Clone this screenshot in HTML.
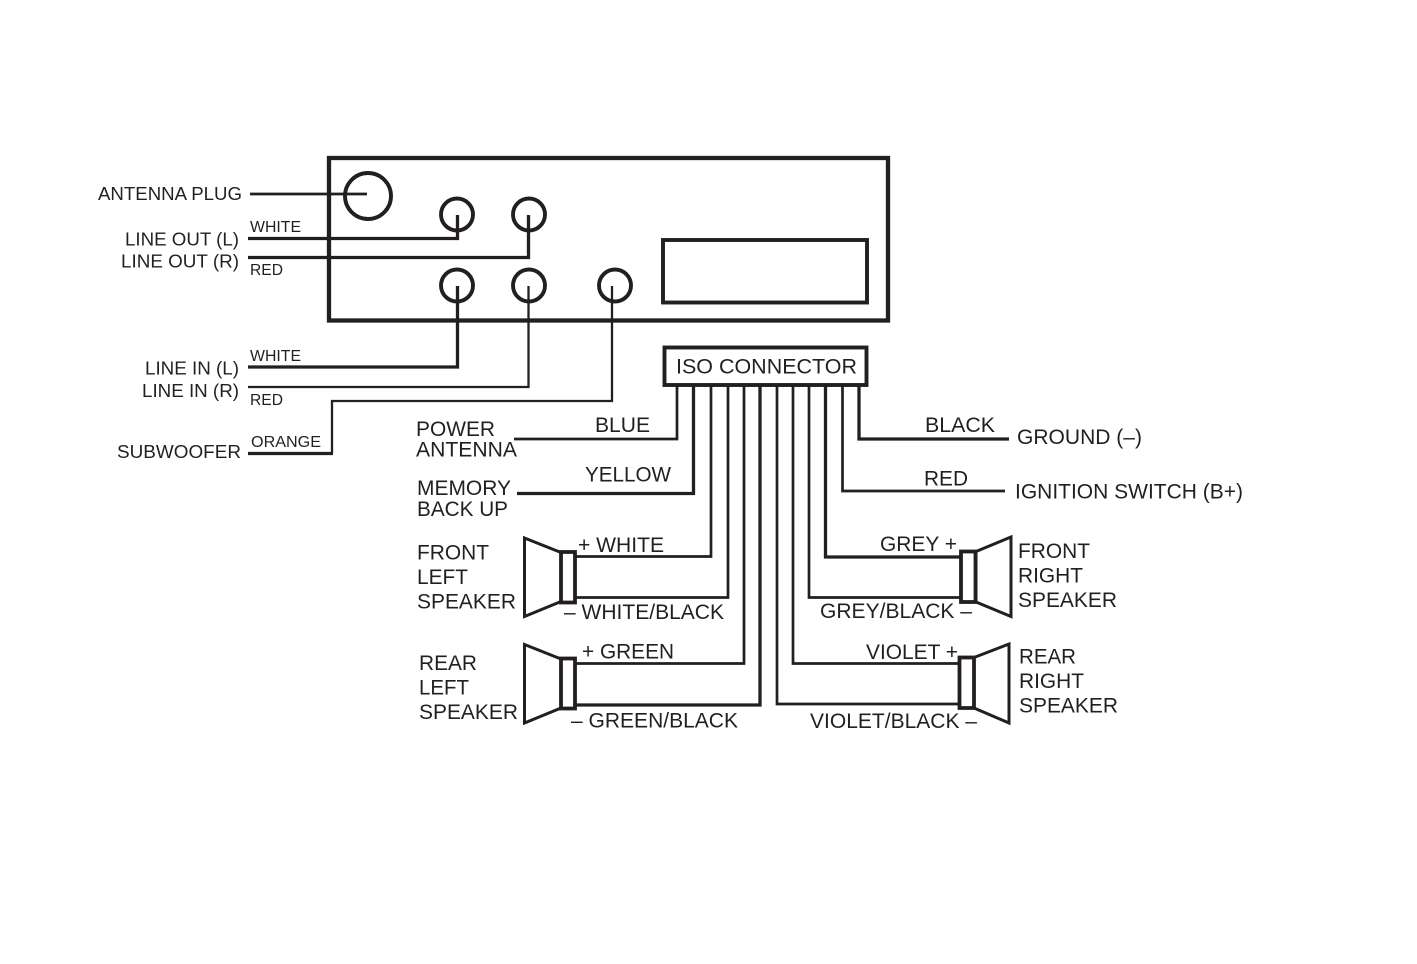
<!DOCTYPE html>
<html lang="en">
<head>
<meta charset="utf-8">
<title>ISO connector wiring diagram</title>
<style>
html,body{margin:0;padding:0;background:#fff;width:1417px;height:964px;overflow:hidden}
svg{display:block}
text{font-family:"Liberation Sans",Arial,sans-serif;fill:#231f20}
.w{fill:none;stroke:#231f20;stroke-width:2.7;stroke-linejoin:miter}
.k{stroke-width:3.3}
.n{stroke-width:2.3}
.b{fill:none;stroke:#231f20;stroke-width:3.9}
.s{fill:#fff;stroke:#231f20;stroke-width:3}
.r{fill:#fff;stroke:#231f20;stroke-width:3.8}
.t16 text{font-size:16px}
.t18 text{font-size:18.6px}
.t21 text{font-size:20.8px}
</style>
</head>
<body>
<svg width="1417" height="964" viewBox="0 0 1417 964" xmlns="http://www.w3.org/2000/svg">
<rect width="1417" height="964" fill="#fff"/>

<!-- head unit -->
<rect x="329" y="158" width="559" height="162.500" fill="none" stroke="#231f20" stroke-width="4.300"/>
<rect x="663" y="240" width="204" height="62.500" class="b"/>
<circle cx="368" cy="196" r="23" class="b"/>
<circle cx="457" cy="214.500" r="16" class="b"/>
<circle cx="529" cy="214.500" r="16" class="b"/>
<circle cx="457" cy="285.500" r="16" class="b"/>
<circle cx="529" cy="285.500" r="16" class="b"/>
<circle cx="615" cy="285.500" r="16" class="b"/>

<!-- rear-panel wires -->
<path class="w" d="M250 194H367"/>
<path class="w k" d="M248 238.500H457.500V215"/>
<path class="w k" d="M248 257.500H528.500V215"/>
<path class="w k" d="M248 367H457.500V286"/>
<path class="w n" d="M248 387H528.500V286"/>
<path class="w n" d="M332 453.500V401H612V286"/>
<path class="w k" d="M248 453.500H333"/>

<!-- ISO connector -->
<rect x="664.500" y="347.500" width="202" height="37.500" class="b"/>
<path class="w" d="M514 439H677V386"/>
<path class="w k" d="M517 493.500H693.500V386"/>
<path class="w" d="M576 556.500H711V386"/>
<path class="w" d="M576 597.500H728V386"/>
<path class="w" d="M576 663.500H744V386"/>
<path class="w k" d="M576 705H760V386"/>
<path class="w" d="M960 704H777V386"/>
<path class="w" d="M960 663.500H793V386"/>
<path class="w" d="M960 597.500H809V386"/>
<path class="w k" d="M960 557H825.500V386"/>
<path class="w" d="M1005 491H842.500V386"/>
<path class="w k" d="M1009 439H859V386"/>

<!-- speakers -->
<path class="s" d="M524.500 538L561 552.500V601.500L524.500 616.500Z"/>
<rect x="561" y="552" width="14" height="50.500" class="r"/>
<path class="s" d="M524.500 644.500L561 659V708L524.500 723Z"/>
<rect x="561" y="658.500" width="14" height="50" class="r"/>
<path class="s" d="M976 551.500L1011 537V616.500L976 602Z"/>
<rect x="961" y="551.500" width="14.500" height="50.500" class="r"/>
<path class="s" d="M974 657.500L1009 644V723L974 708Z"/>
<rect x="959.500" y="657.500" width="14.500" height="50.500" class="r"/>

<!-- small labels -->
<g class="t16">
<text x="250" y="232" textLength="51" lengthAdjust="spacingAndGlyphs">WHITE</text>
<text x="250" y="275" textLength="33" lengthAdjust="spacingAndGlyphs">RED</text>
<text x="250" y="361" textLength="51" lengthAdjust="spacingAndGlyphs">WHITE</text>
<text x="250" y="405" textLength="33" lengthAdjust="spacingAndGlyphs">RED</text>
<text x="251" y="447" textLength="70" lengthAdjust="spacingAndGlyphs">ORANGE</text>
</g>

<!-- left labels -->
<g class="t18">
<text x="98" y="200" textLength="144" lengthAdjust="spacingAndGlyphs">ANTENNA PLUG</text>
<text x="125" y="245.500" textLength="114" lengthAdjust="spacingAndGlyphs">LINE OUT (L)</text>
<text x="121" y="267.500" textLength="118" lengthAdjust="spacingAndGlyphs">LINE OUT (R)</text>
<text x="145" y="374.500" textLength="94" lengthAdjust="spacingAndGlyphs">LINE IN (L)</text>
<text x="142" y="397" textLength="97" lengthAdjust="spacingAndGlyphs">LINE IN (R)</text>
<text x="117" y="458" textLength="124" lengthAdjust="spacingAndGlyphs">SUBWOOFER</text>
</g>

<!-- large labels -->
<g class="t21">
<text x="416" y="436" textLength="79" lengthAdjust="spacingAndGlyphs">POWER</text>
<text x="416" y="456.500" textLength="101" lengthAdjust="spacingAndGlyphs">ANTENNA</text>
<text x="676" y="373.500" textLength="181" lengthAdjust="spacingAndGlyphs">ISO CONNECTOR</text>
<text x="595" y="432" textLength="55" lengthAdjust="spacingAndGlyphs">BLUE</text>
<text x="585" y="481.500" textLength="86" lengthAdjust="spacingAndGlyphs">YELLOW</text>
<text x="417" y="495" textLength="94" lengthAdjust="spacingAndGlyphs">MEMORY</text>
<text x="417" y="516" textLength="91" lengthAdjust="spacingAndGlyphs">BACK UP</text>

<text x="417" y="559.500" textLength="72" lengthAdjust="spacingAndGlyphs">FRONT</text>
<text x="417" y="584" textLength="51" lengthAdjust="spacingAndGlyphs">LEFT</text>
<text x="417" y="608.500" textLength="99" lengthAdjust="spacingAndGlyphs">SPEAKER</text>
<text x="578" y="552" textLength="86" lengthAdjust="spacingAndGlyphs">+ WHITE</text>
<text x="564" y="619" textLength="160" lengthAdjust="spacingAndGlyphs">– WHITE/BLACK</text>

<text x="582" y="658.500" textLength="92" lengthAdjust="spacingAndGlyphs">+ GREEN</text>
<text x="571" y="727.500" textLength="167" lengthAdjust="spacingAndGlyphs">– GREEN/BLACK</text>
<text x="419" y="670" textLength="58" lengthAdjust="spacingAndGlyphs">REAR</text>
<text x="419" y="694.500" textLength="50" lengthAdjust="spacingAndGlyphs">LEFT</text>
<text x="419" y="719" textLength="99" lengthAdjust="spacingAndGlyphs">SPEAKER</text>

<text x="925" y="432" textLength="70" lengthAdjust="spacingAndGlyphs">BLACK</text>
<text x="1017" y="444" textLength="125" lengthAdjust="spacingAndGlyphs">GROUND (–)</text>
<text x="924" y="485.500" textLength="44" lengthAdjust="spacingAndGlyphs">RED</text>
<text x="1015" y="498.500" textLength="228" lengthAdjust="spacingAndGlyphs">IGNITION SWITCH (B+)</text>

<text x="880" y="551" textLength="77" lengthAdjust="spacingAndGlyphs">GREY +</text>
<text x="820" y="618" textLength="152" lengthAdjust="spacingAndGlyphs">GREY/BLACK –</text>
<text x="1018" y="558" textLength="72" lengthAdjust="spacingAndGlyphs">FRONT</text>
<text x="1018" y="582.500" textLength="65" lengthAdjust="spacingAndGlyphs">RIGHT</text>
<text x="1018" y="607" textLength="99" lengthAdjust="spacingAndGlyphs">SPEAKER</text>

<text x="866" y="659" textLength="92" lengthAdjust="spacingAndGlyphs">VIOLET +</text>
<text x="810" y="728" textLength="167" lengthAdjust="spacingAndGlyphs">VIOLET/BLACK –</text>
<text x="1019" y="663.500" textLength="57" lengthAdjust="spacingAndGlyphs">REAR</text>
<text x="1019" y="688" textLength="65" lengthAdjust="spacingAndGlyphs">RIGHT</text>
<text x="1019" y="712.500" textLength="99" lengthAdjust="spacingAndGlyphs">SPEAKER</text>
</g>
</svg>
</body>
</html>
